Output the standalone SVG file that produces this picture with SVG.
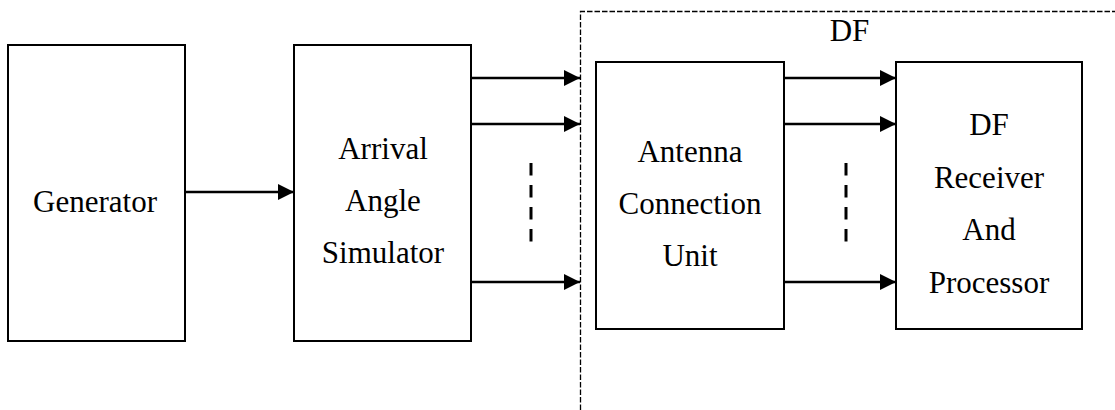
<svg xmlns="http://www.w3.org/2000/svg" width="1115" height="410" viewBox="0 0 1115 410">
  <style>
    .box { fill: #fff; stroke: #000; stroke-width: 2; }
    .wire { stroke: #000; stroke-width: 2.5; fill: none; }
    .gap { stroke: #000; stroke-width: 3; stroke-dasharray: 12.5 9.5; fill: none; }
    .zone { stroke: #000; stroke-width: 1.3; stroke-dasharray: 5.5 2; fill: none; }
  </style>
  <defs>
    <marker id="arrow" markerUnits="userSpaceOnUse" markerWidth="17" markerHeight="17" refX="16" refY="8" orient="auto">
      <path d="M0,0 L16,8 L0,16 Z" fill="#000"/>
    </marker>
  </defs>

  <g font-family="Liberation Serif, DejaVu Serif, serif" font-size="31" fill="#000" text-anchor="middle">
    <!-- DF subsystem boundary -->
    <g id="df-zone">
      <path class="zone" d="M580.5,410 L580.5,11.5 L1115,11.5"/>
      <text x="849.5" y="41">DF</text>
    </g>

    <g id="generator">
      <rect class="box" x="8" y="45" width="177" height="296"/>
      <text x="95" y="212">Generator</text>
    </g>

    <g id="simulator">
      <rect class="box" x="294" y="45" width="177" height="296"/>
      <text x="383" y="159">Arrival</text>
      <text x="383" y="211">Angle</text>
      <text x="383" y="263">Simulator</text>
    </g>

    <g id="antenna-unit">
      <rect class="box" x="596" y="62" width="188" height="267"/>
      <text x="690" y="162">Antenna</text>
      <text x="690" y="214">Connection</text>
      <text x="690" y="266">Unit</text>
    </g>

    <g id="df-receiver">
      <rect class="box" x="896" y="62" width="186" height="267"/>
      <text x="989" y="135">DF</text>
      <text x="989" y="188">Receiver</text>
      <text x="989" y="240">And</text>
      <text x="989" y="293">Processor</text>
    </g>
  </g>

  <g id="connectors">
    <line class="wire" x1="185" y1="192" x2="294" y2="192" marker-end="url(#arrow)"/>
    <line class="wire" x1="471" y1="78" x2="580" y2="78" marker-end="url(#arrow)"/>
    <line class="wire" x1="471" y1="124" x2="580" y2="124" marker-end="url(#arrow)"/>
    <line class="wire" x1="471" y1="282" x2="580" y2="282" marker-end="url(#arrow)"/>
    <line class="gap" x1="531" y1="163" x2="531" y2="242"/>
    <line class="wire" x1="784" y1="78" x2="896" y2="78" marker-end="url(#arrow)"/>
    <line class="wire" x1="784" y1="124" x2="896" y2="124" marker-end="url(#arrow)"/>
    <line class="wire" x1="784" y1="282" x2="896" y2="282" marker-end="url(#arrow)"/>
    <line class="gap" x1="846" y1="163" x2="846" y2="242"/>
  </g>
</svg>
